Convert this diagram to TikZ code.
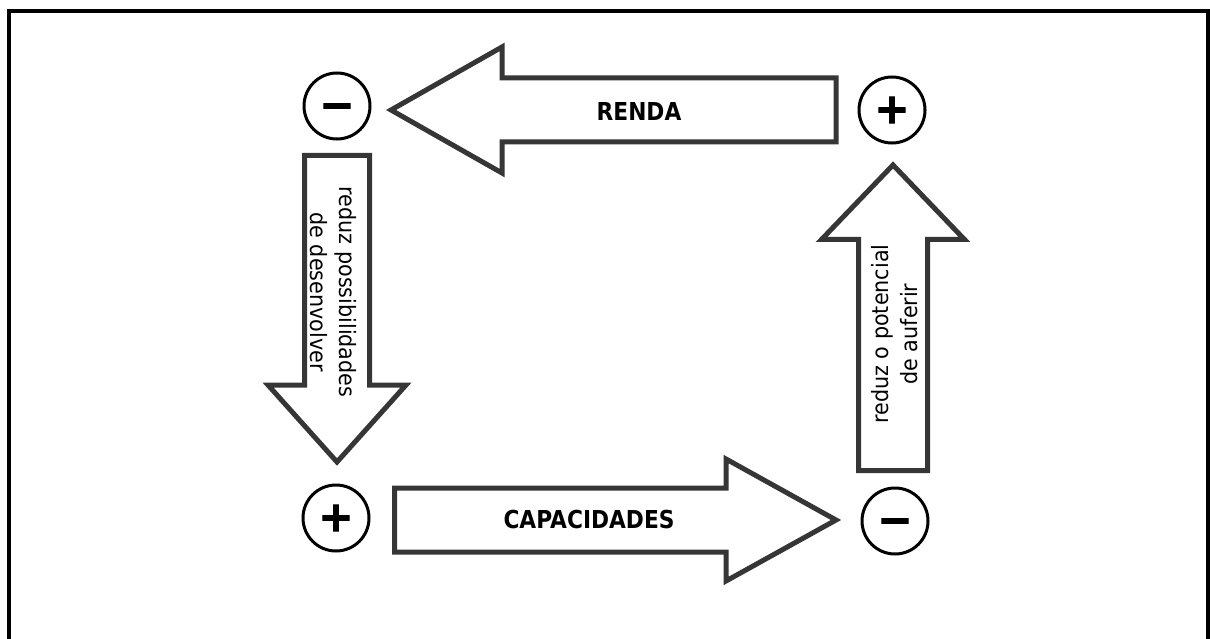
\documentclass[tikz,border=0pt]{standalone}
\usepackage{fontspec}
\setmainfont{DejaVu Sans}
\newfontfamily\capsfont{DejaVu Sans}[FakeStretch=0.88]
\newfontfamily\sidefont{DejaVu Sans}[FakeStretch=0.92]
\newfontfamily\signfont{DejaVu Sans}[FakeBold=2.5]
\definecolor{arrowgray}{HTML}{363636}
\begin{document}
\begin{tikzpicture}[x=1pt,y=-1pt,
  blockarrow/.style={draw=arrowgray, line width=5pt, fill=white, line join=miter},
  sign/.style={circle, draw=black, line width=3pt, minimum size=66pt, inner sep=0pt,
    font=\signfont\bfseries\fontsize{42}{42}\selectfont},
  flowlabel/.style={inner sep=0pt, font=\capsfont\bfseries\fontsize{24.7}{29}\selectfont},
  sidelabel/.style={inner sep=0pt, align=center, font=\sidefont\fontsize{22.5}{29}\selectfont}]

\useasboundingbox (0,0) rectangle (1210,639);
\clip (0,0) rectangle (1210,639);

% outer frame (open at the bottom edge of the page)
\draw[line width=4pt] (9,700) -- (9,11) -- (1208,11) -- (1208,700);

% the four signs
\node[sign] (tl) at (337,106) {\vphantom{+}−};
\node[sign] (tr) at (892,110) {\vphantom{+}+};
\node[sign] (bl) at (336,518) {\vphantom{+}+};
\node[sign] (br) at (895,521) {\vphantom{+}−};

% block arrows
\draw[blockarrow] (391,110) -- (502,47) -- (502,78) -- (836,78) -- (836,142)
  -- (502,142) -- (502,173) -- cycle;
\draw[blockarrow] (836,520) -- (726,459) -- (726,488) -- (394.5,488) -- (394.5,552)
  -- (726,552) -- (726,581) -- cycle;
\draw[blockarrow] (337,462) -- (268,385) -- (304.5,385) -- (304.5,155.5) -- (369.5,155.5)
  -- (369.5,385) -- (406,385) -- cycle;
\draw[blockarrow] (893,165) -- (964.5,239.5) -- (927.5,239.5) -- (927.5,470.5)
  -- (858.5,470.5) -- (858.5,239.5) -- (821.5,239.5) -- cycle;

% labels
\node[flowlabel] (renda) at (639,111) {RENDA};
\node[flowlabel] (capac) at (589,520) {CAPACIDADES};
\node[sidelabel, rotate=-90] (desenv) at (333,292) {reduz possibilidades\\de desenvolver};
\node[sidelabel, rotate=90] (auferir) at (895,334) {reduz o potencial\\de auferir};
\end{tikzpicture}
\end{document}
